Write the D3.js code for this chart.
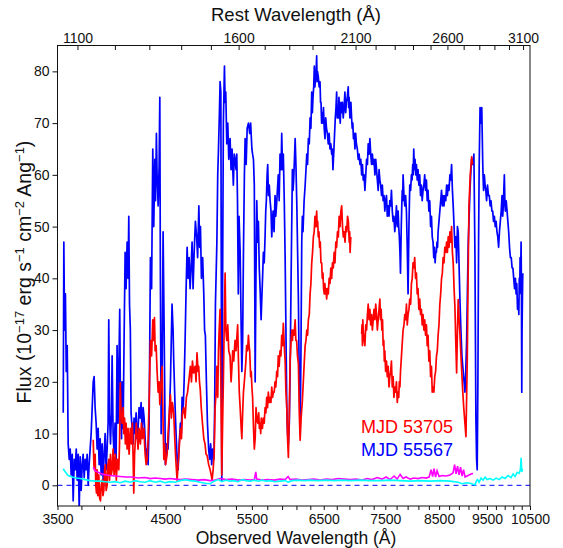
<!DOCTYPE html>
<html>
<head>
<meta charset="utf-8">
<script src="https://cdn.jsdelivr.net/npm/d3@7.9.0/dist/d3.min.js"></script>
<style>
  html, body { margin: 0; padding: 0; background: #fff; }
  svg { display: block; font-family: "Liberation Sans", Arial, Helvetica, sans-serif; }
  .tick text { fill: #111; }
</style>
</head>
<body>
<svg id="chart" width="563" height="548"></svg>
<script>
// redshift used for the rest-frame axis on top
const zQSO = 2.333;

// observed-frame tick values
const obsTicks = d3.range(3500, 10501, 200);
const obsLabels = [3500, 4500, 5500, 6500, 7500, 8500, 9500, 10500];
const restTicks = d3.range(1100, 3101, 100);
const restLabels = [1100, 1600, 2100, 2600, 3100];
const fluxTicks = [0, 10, 20, 30, 40, 50, 60, 70, 80];

const legendLabels = ["MJD 53705", "MJD 55567"];

// MJD 55567 spectrum [observed wavelength (A), flux]
const spec55567 = [
  [3547,14],[3552,47],[3558,30],[3565,37],[3572,22],[3580,27],[3588,8],[3597,5],[3605,7],[3613,2],
  [3622,6],[3630,-3],[3639,5],[3647,3],[3656,7],[3664,1],[3673,6],[3681,-4.5],[3690,5.5],[3698,-1],
  [3707,4],[3715,6],[3724,1.5],[3733,5],[3741,3],[3750,6],[3759,0],[3767,4],[3776,7],[3785,10],
  [3794,15],[3803,20],[3811,21],[3820,15],[3829,12],[3838,7],[3847,11],[3856,4],[3865,9],[3874,2],
  [3883,8],[3892,1],[3901,6],[3910,10],[3919,3],[3928,7],[3937,12],[3943,32],[3950,14],[3959,8],
  [3968,14],[3974,25],[3983,10],[3992,6],[4001,12],[4011,5],[4020,27],[4029,12],[4045,34],[4052,15],
  [4062,9],[4067,20],[4077,11],[4086,28],[4096,45],[4105,38],[4115,47],[4124,40],[4131,52],[4138,35],
  [4146,30],[4153,14],[4163,11],[4173,8],[4182,13],[4192,10],[4202,14],[4211,9],[4221,11],[4231,15],
  [4241,13],[4251,16],[4261,10],[4271,15],[4281,13],[4291,9],[4301,5],[4311,7],[4321,4],[4331,12],
  [4344,44],[4356,38],[4368,65],[4378,50],[4389,63],[4396,55],[4405,68],[4412,60],[4423,54],[4433,62],
  [4440,75],[4446,40],[4454,10],[4464,22],[4474,49],[4485,30],[4498,4],[4511,8],[4526,7],[4537,12],
  [4551,20],[4560,28],[4568,35],[4579,30],[4586,24],[4601,15],[4611,10],[4622,5],[4633,3],[4644,8],
  [4658,12],[4668,10],[4676,17],[4687,14],[4698,20],[4709,28],[4720,38],[4731,46],[4742,40],[4753,44],
  [4764,38],[4775,42],[4786,47],[4797,38],[4809,45],[4823,51],[4837,48],[4848,44],[4862,54],[4871,46],
  [4880,50],[4891,40],[4905,44],[4918,37],[4927,30],[4936,29],[4948,20],[4960,12],[4974,7],[4985,5],
  [4997,8],[5009,4],[5020,7],[5035,5],[5044,15],[5053,35],[5070,47],[5080,60],[5089,65],[5100,72],
  [5108,78],[5117,76],[5128,1],[5138,40],[5147,70],[5160,81],[5168,74],[5176,76],[5188,66],[5200,70],
  [5212,63],[5228,67],[5240,61],[5252,65],[5268,58],[5279,64],[5289,63],[5301,61],[5310,64],[5319,55],
  [5329,37],[5338,52],[5352,45],[5365,30],[5373,22],[5383,28],[5393,45],[5405,60],[5414,67],[5427,62],
  [5440,69],[5456,70],[5472,68],[5484,70],[5500,65],[5509,64],[5520,63],[5531,58],[5542,20],[5552,40],
  [5563,55],[5573,47],[5584,51],[5595,42],[5606,38],[5619,32],[5628,36],[5638,40],[5649,45],[5660,43],
  [5671,48],[5680,53],[5688,55],[5698,60],[5706,62],[5716,56],[5727,58],[5738,55],[5750,53],[5760,48],
  [5769,51],[5778,53],[5791,49],[5804,56],[5814,52],[5824,54],[5836,57],[5848,60],[5860,55],[5872,64],
  [5886,61],[5895,68],[5906,61],[5917,64],[5930,55],[5942,44],[5953,30],[5965,15],[5976,10],[5987,8],
  [6000,12],[6011,22],[6025,40],[6043,61],[6052,57],[6061,59],[6072,63],[6082,67],[6093,62],[6106,54],
  [6117,45],[6128,36],[6141,20],[6153,10],[6164,25],[6176,47],[6185,52],[6194,49],[6210,55],[6225,58],
  [6237,61],[6249,64],[6260,62],[6272,67],[6285,66],[6297,71],[6309,69],[6321,76],[6330,72],[6340,75],
  [6350,77],[6359,81],[6368,77],[6377,79],[6386,80],[6394,83],[6400,78],[6406,80],[6418,79],[6431,77],
  [6444,78],[6452,74],[6459,74],[6468,70],[6478,72],[6487,70],[6496,73],[6507,69],[6519,67],[6530,71],
  [6542,69],[6555,68],[6569,66],[6582,68],[6595,65],[6608,66],[6621,64],[6631,65],[6641,61],[6648,63],
  [6656,65],[6666,68],[6677,71],[6688,73],[6698,76],[6708,71],[6718,73],[6726,71],[6734,75],[6744,72],
  [6754,70],[6765,74],[6776,72],[6788,74],[6801,71],[6815,73],[6828,76],[6840,72],[6852,74],[6866,75],
  [6881,77],[6888,73],[6895,75],[6908,71],[6924,74],[6935,71],[6945,69],[6955,70],[6965,67],[6977,68],
  [6989,65],[7001,68],[7013,66],[7028,65],[7043,63],[7057,64],[7071,62],[7085,63],[7099,60],[7112,62],
  [7125,59],[7139,60],[7153,57],[7167,60],[7181,63],[7195,62],[7208,66],[7222,64],[7236,67],[7250,64],
  [7265,62],[7278,64],[7292,62],[7306,63],[7321,60],[7335,63],[7349,61],[7363,59],[7377,57],[7392,61],
  [7406,59],[7420,58],[7435,56],[7449,58],[7463,55],[7478,56],[7492,53],[7506,55],[7521,56],[7535,52],
  [7550,54],[7565,52],[7579,55],[7594,54],[7608,57],[7623,53],[7638,51],[7652,52],[7667,49],[7682,51],
  [7697,54],[7712,50],[7727,53],[7738,50],[7749,48],[7760,45],[7770,41],[7784,50],[7793,54],[7802,57],
  [7810,55],[7817,60],[7833,56],[7848,54],[7863,56],[7878,53],[7893,46],[7908,37],[7924,50],[7939,58],
  [7955,57],[7970,60],[7982,59],[7994,62],[8003,60],[8013,65],[8025,61],[8037,63],[8050,60],[8063,62],
  [8078,59],[8093,61],[8109,58],[8125,60],[8141,56],[8157,58],[8172,55],[8188,57],[8204,58],[8220,60],
  [8236,57],[8253,59],[8268,55],[8284,57],[8300,53],[8317,55],[8333,50],[8350,52],[8365,48],[8381,47],
  [8395,44],[8409,46],[8421,43],[8434,45],[8446,45],[8458,47],[8469,46],[8480,49],[8497,51],[8514,53],
  [8531,55],[8548,57],[8564,54],[8580,56],[8597,54],[8614,56],[8632,55],[8649,58],[8665,56],[8681,58],
  [8698,57],[8716,60],[8733,59],[8750,62],[8767,57],[8783,54],[8818,46],[8839,48],[8853,43],[8870,50],
  [8886,49],[8905,42],[8921,36],[8942,30],[8963,25],[8990,22],[9026,18],[9043,22],[9062,28],[9079,38],
  [9096,47],[9115,52],[9132,57],[9153,61],[9168,63],[9195,62],[9216,64],[9238,45],[9259,13],[9274,5],
  [9287,3],[9302,20],[9317,47],[9330,62],[9349,73],[9371,70],[9386,73],[9408,62],[9417,59],[9426,57],
  [9442,60],[9459,58],[9475,57],[9492,55],[9512,58],[9533,56],[9552,56],[9571,54],[9590,55],[9610,53],
  [9628,53],[9646,51],[9665,52],[9685,50],[9704,51],[9724,49],[9742,48],[9761,46],[9780,49],[9800,51],
  [9820,53],[9839,56],[9854,52],[9869,54],[9880,57],[9892,60],[9904,55],[9915,53],[9935,55],[9955,53],
  [9973,51],[9992,49],[10012,46],[10032,44],[10052,44],[10072,42],[10091,42],[10110,40],[10130,38],[10150,40],
  [10166,37],[10182,39],[10200,34],[10220,36],[10231,33],[10242,40],[10252,37],[10261,44],[10273,40],[10285,47],
  [10293,38],[10301,18],[10308,30],[10315,35],[10325,41]
];

// MJD 53705 spectrum (gap between the two arms marked with null)
const spec53705 = [
  [3803,8.8],[3809,4],[3815,3],[3820,6],[3826,0],[3832,-1.5],[3838,3],[3844,-2],[3853,2],[3860,-2.5],
  [3868,-3],[3874,0],[3883,1],[3890,-2],[3898,-1],[3905,3],[3912,4],[3919,-1],[3928,0],[3935,4],
  [3943,5],[3950,1],[3959,6],[3966,2],[3974,3],[3983,7],[3992,2],[4004,6],[4013,1],[4023,5],
  [4036,3],[4043,8],[4050,19.8],[4057,14],[4067,12],[4077,15],[4083,10],[4091,13],[4098,8],[4105,12],
  [4115,7],[4124,11],[4134,6],[4146,11],[4156,8],[4166,12],[4173,5],[4179,-1.5],[4187,6],[4195,9],
  [4204,12],[4211,10],[4221,7],[4231,11],[4244,8],[4254,12],[4264,9],[4278,11],[4291,6],[4301,4],
  [4311,5],[4321,9],[4333,18],[4344,28],[4356,25],[4368,32],[4376,28],[4385,32.4],[4392,26],[4402,27],
  [4412,22],[4423,18],[4433,20],[4440,15.6],[4450,19],[4464,23],[4472,14],[4482,5],[4490,8],[4500,4],
  [4516,6],[4526,10],[4539,14],[4551,17.5],[4561,13],[4572,16],[4586,14],[4597,9],[4608,5],[4622,1],
  [4633,4],[4644,7],[4658,11],[4669,9],[4680,14],[4694,15],[4709,13],[4723,17],[4736,18],[4749,20],
  [4767,23],[4779,20],[4790,24],[4803,21.7],[4820,23],[4830,20],[4841,25.6],[4853,22],[4860,23],[4869,20],
  [4878,18.5],[4889,15],[4903,12],[4918,9],[4932,8],[4944,6],[4956,5.8],[4974,4],[4991,3],[5003,2],
  [5014,1],[5026,3],[5038,6],[5049,15],[5061,18],[5070,23],[5080,17],[5089,26],[5097,30],[5108,34],
  [5117,20],[5128,2],[5138,12],[5147,20],[5158,32],[5168,41],[5177,30],[5188,28],[5200,31],[5212,26],
  [5228,25],[5240,20],[5248,22],[5260,26],[5272,24],[5289,28],[5301,26],[5321,31],[5331,24],[5341,18],
  [5352,15],[5365,11],[5373,9],[5383,14],[5393,18],[5404,20],[5414,22],[5424,24],[5433,27],[5445,26],
  [5456,29],[5464,27],[5472,26],[5484,21],[5492,22],[5500,19],[5509,17],[5521,11],[5531,7],[5542,9],
  [5553,15],[5563,13],[5575,12],[5588,14],[5597,11],[5606,12],[5614,10],[5622,13],[5636,11],[5649,13],
  [5660,12],[5671,15],[5682,14],[5693,17],[5704,15],[5714,18],[5726,16],[5738,17],[5749,16],[5760,19],
  [5771,17],[5782,18],[5793,18],[5804,20],[5815,19],[5827,22],[5838,21],[5848,25],[5860,23],[5872,26],
  [5884,25],[5895,29],[5906,27],[5917,31.3],[5930,27],[5942,24],[5953,18],[5965,15],[5976,9],[5987,5.4],
  [6000,14],[6011,24],[6025,28],[6035,30],[6044,28],[6053,30],[6067,29],[6082,32],[6092,28],[6103,28],
  [6115,25],[6128,23.5],[6141,14],[6153,8.7],[6167,13],[6185,16.4],[6202,21],[6213,24],[6225,27],[6237,28],
  [6249,30],[6260,29],[6272,32],[6285,33],[6297,37],[6309,39],[6321,43],[6333,45],[6345,48],[6357,49],
  [6369,52],[6381,50],[6394,53],[6402,50],[6409,51],[6418,48],[6428,49],[6438,46],[6448,47],[6458,43],
  [6469,43],[6478,40],[6488,41],[6498,38],[6508,37],[6517,39],[6526,37],[6535,38],[6544,36],[6556,38],
  [6569,37],[6582,40],[6595,39],[6608,42],[6621,40],[6633,43],[6646,42],[6659,45],[6672,43],[6685,47],
  [6698,46],[6711,49],[6724,48],[6737,52],[6751,50],[6764,53],[6777,54],[6790,50],[6803,48],[6816,49],
  [6830,47],[6843,50],[6857,49],[6870,52],[6883,51],[6897,47],[6904,49],[6911,45],[6922,48],
  [7010,null],
  [7099,29.3],[7105,31],[7112,27],[7118,32],[7125,30],[7139,28],[7153,27],[7167,31],[7181,30],[7195,33],
  [7208,35],[7222,32],[7236,34],[7250,31],[7265,33],[7278,30],[7292,32],[7306,34],[7321,32],[7335,35],
  [7349,33],[7363,30],[7377,32],[7392,34],[7406,36],[7417,32],[7428,34],[7440,30],[7452,32],[7463,27],
  [7474,28],[7483,24],[7492,26],[7506,22],[7521,24],[7535,21],[7550,23],[7565,19],[7579,21],[7594,22],
  [7608,24],[7623,19],[7638,21],[7652,17],[7667,19],[7682,18],[7697,20],[7712,16],[7727,18],[7738,17],
  [7749,20],[7760,19],[7770,22],[7782,24],[7793,26],[7805,28],[7817,30],[7833,31],[7848,33],[7863,32],
  [7878,35],[7893,31],[7908,33],[7924,34],[7939,36],[7955,35],[7970,39],[7985,40],[8000,43],[8015,42],
  [8031,44],[8047,40],[8063,41],[8078,37],[8093,38],[8109,34],[8125,36],[8141,33],[8157,34],[8172,31],
  [8188,33],[8204,30],[8220,32],[8236,29],[8253,31],[8268,27],[8284,29],[8300,24],[8317,26],[8333,21],
  [8350,23],[8365,18],[8381,19],[8397,18],[8414,21],[8431,22],[8448,25],[8464,26],[8480,29],[8497,31],
  [8514,35],[8531,37],[8548,40],[8564,41],[8580,44],[8597,43],[8614,46],[8632,45],[8649,47],[8665,45],
  [8681,48],[8698,46],[8716,49],[8733,47],[8750,50],[8767,45],[8783,43],[8801,38],[8818,34.5],[8835,28],
  [8853,21.7],[8870,30],[8886,35.9],[8905,32],[8921,29.3],[8948,24],[8978,18.5],[9001,15],[9026,12],[9047,9.4],
  [9075,24.3],[9090,38],[9111,54],[9138,60],[9168,63.5],[9189,62]
];

// error spectrum of MJD 53705
const err53705 = [
  [3803,3.5],[3820,2.8],[3847,2.5],[3883,2.2],[3919,2.0],[3956,1.9],[4001,1.8],[4048,1.7],[4105,1.6],[4163,1.6],
  [4221,1.4],[4291,1.5],[4341,1.3],[4392,1.4],[4444,1.3],[4495,1.2],[4547,1.3],[4601,1.2],[4654,1.1],[4720,1.2],
  [4786,1.1],[4853,1.0],[4922,1.1],[4991,0.9],[5049,1.0],[5108,1.3],[5180,1.1],[5252,1.2],[5326,1.0],[5402,1.1],
  [5478,1.0],[5531,1.1],[5550,2.6],[5561,1.2],[5632,1.0],[5711,1.1],[5791,1.0],[5872,1.2],[5942,1.1],[5983,1.7],
  [6011,1.1],[6095,1.2],[6181,1.0],[6268,1.1],[6357,1.2],[6444,1.0],[6536,1.2],[6628,1.1],[6721,1.3],[6815,1.2],
  [6911,1.1],[7008,1.2],[7107,1.0],[7190,1.3],[7274,1.1],[7358,1.5],[7444,1.2],[7514,1.6],[7584,1.1],[7655,1.8],
  [7709,1.2],[7763,2.1],[7817,1.3],[7871,1.6],[7946,1.2],[8019,1.4],[8094,1.3],[8170,1.5],[8246,1.4],[8304,1.6],
  [8343,3.0],[8372,1.7],[8401,3.2],[8430,1.6],[8460,2.8],[8499,1.7],[8558,1.9],[8638,1.8],[8719,2.0],[8780,2.4],
  [8811,4.0],[8842,2.2],[8872,3.7],[8903,2.0],[8934,3.5],[8966,1.8],[8997,3.0],[9029,1.6],[9092,1.9],[9155,2.2],
  [9198,2.3]
];

// error spectrum of MJD 55567
const err55567 = [
  [3547,3.2],[3563,2.6],[3588,1.9],[3622,1.6],[3656,1.4],[3690,1.3],[3733,1.1],[3776,0.9],[3820,0.8],[3865,0.8],
  [3910,0.7],[3956,0.6],[4001,0.7],[4048,0.5],[4096,0.8],[4143,0.6],[4192,0.9],[4241,0.7],[4291,0.6],[4341,0.9],
  [4392,0.6],[4444,0.8],[4495,0.5],[4547,0.7],[4601,0.6],[4654,0.9],[4709,1.1],[4764,0.9],[4820,0.8],[4876,0.6],
  [4933,0.4],[4991,0.3],[5038,0.8],[5084,1.1],[5132,0.7],[5180,1.0],[5228,0.8],[5277,0.9],[5326,0.7],[5377,1.1],
  [5427,0.9],[5478,0.8],[5531,1.0],[5580,0.8],[5632,1.0],[5685,0.8],[5738,0.9],[5804,0.7],[5872,0.8],[5942,0.9],
  [5983,0.6],[6039,0.9],[6124,1.0],[6210,0.9],[6297,1.0],[6416,0.9],[6536,1.0],[6659,0.9],[6784,1.0],[6911,0.9],
  [7074,1.0],[7240,0.9],[7410,0.9],[7584,1.0],[7763,0.9],[7946,0.8],[8132,0.9],[8323,0.8],[8519,0.9],[8719,0.8],
  [8883,0.6],[8966,0.3],[9050,0.5],[9134,0.4],[9198,0.2],[9241,0.1],[9273,0.9],[9294,1.1],[9327,0.6],[9371,1.4],
  [9414,1.0],[9458,1.6],[9502,1.1],[9569,1.3],[9636,1.0],[9704,1.4],[9772,1.1],[9840,1.6],[9909,1.3],[9978,1.9],
  [10048,1.5],[10095,2.2],[10142,1.7],[10189,2.5],[10237,2.3],[10268,3.0],[10285,5.3],[10301,2.6],[10320,3.2]
];

const svg = d3.select("#chart");
const plotLeft = 57.5, plotRight = 530, plotTop = 45.5, plotBottom = 506;

const x = d3.scaleLog().domain([3500, 10500]).range([plotLeft, plotRight]);
const xRest = d3.scaleLog().domain([3500 / (1 + zQSO), 10500 / (1 + zQSO)]).range([plotLeft, plotRight]);
const y = d3.scaleLinear().domain([-4, 85]).range([plotBottom, plotTop]);

svg.append("clipPath").attr("id", "plotClip")
  .append("rect").attr("x", plotLeft).attr("y", plotTop)
  .attr("width", plotRight - plotLeft).attr("height", plotBottom - plotTop);

const plot = svg.append("g").attr("clip-path", "url(#plotClip)");

const line = d3.line()
  .defined(d => d[1] !== null)
  .x(d => x(d[0]))
  .y(d => y(d[1]));

// zero level
plot.append("line")
  .attr("x1", plotLeft).attr("x2", plotRight)
  .attr("y1", y(0)).attr("y2", y(0))
  .attr("stroke", "#0000ff").attr("stroke-width", 1)
  .attr("stroke-dasharray", "5,4");

plot.append("path").datum(spec55567)
  .attr("d", line).attr("fill", "none")
  .attr("stroke", "#0000ff").attr("stroke-width", 1.7).attr("stroke-linejoin", "round");

plot.append("path").datum(spec53705)
  .attr("d", line).attr("fill", "none")
  .attr("stroke", "#ff0000").attr("stroke-width", 1.7).attr("stroke-linejoin", "round");

plot.append("path").datum(err53705)
  .attr("d", line).attr("fill", "none")
  .attr("stroke", "#ff00ff").attr("stroke-width", 1.6);

plot.append("path").datum(err55567)
  .attr("d", line).attr("fill", "none")
  .attr("stroke", "#00ffff").attr("stroke-width", 1.6);

// axes
const xAxis = d3.axisBottom(x)
  .tickValues(obsTicks)
  .tickFormat(d => d)
  .tickSize(4).tickSizeOuter(0).tickPadding(4);

const gx = svg.append("g").attr("transform", `translate(0,${plotBottom})`).call(xAxis);
// only the labelled ticks keep their text
gx.selectAll(".tick text").filter(d => !obsLabels.includes(d)).remove();

const topAxis = d3.axisTop(xRest)
  .tickValues(restTicks)
  .tickFormat(d => d)
  .tickSize(-4.5).tickSizeOuter(0).tickPadding(3);

const gt = svg.append("g").attr("transform", `translate(0,${plotTop})`).call(topAxis);
gt.selectAll(".tick text").filter(d => !restLabels.includes(d)).remove();

const yAxis = d3.axisLeft(y)
  .tickValues(fluxTicks)
  .tickSize(5).tickSizeOuter(0).tickPadding(3);

const gy = svg.append("g").attr("transform", `translate(${plotLeft},0)`).call(yAxis);

[gx, gt, gy].forEach(g => {
  g.select(".domain").remove();
  g.selectAll(".tick line").attr("stroke", "#111");
  g.selectAll(".tick text").attr("font-size", 14)
    .attr("font-family", '"Liberation Sans", Arial, sans-serif');
});

// frame
svg.append("rect")
  .attr("x", plotLeft).attr("y", plotTop)
  .attr("width", plotRight - plotLeft).attr("height", plotBottom - plotTop)
  .attr("fill", "none").attr("stroke", "#111").attr("stroke-width", 1);

// axis titles
svg.append("text")
  .attr("x", 296).attr("y", 544)
  .attr("text-anchor", "middle").attr("font-size", 17.5).attr("fill", "#111")
  .text("Observed Wavelength (Å)");

svg.append("text")
  .attr("x", 296).attr("y", 21)
  .attr("text-anchor", "middle").attr("font-size", 18.5).attr("fill", "#111")
  .text("Rest Wavelength (Å)");

const yTitle = svg.append("text")
  .attr("transform", "translate(31,272) rotate(-90)")
  .attr("text-anchor", "middle").attr("font-size", 19.5).attr("fill", "#111");

const yParts = [["Flux (10", false], ["−17", true], [" erg s", false], ["−1", true],
                [" cm", false], ["−2", true], [" Ang", false], ["−1", true], [")", false]];
let raised = false;
yParts.forEach(([t, sup]) => {
  const span = yTitle.append("tspan").text(t);
  if (sup) {
    span.attr("font-size", 13).attr("dy", -7);
    raised = true;
  } else if (raised) {
    span.attr("dy", 7);
    raised = false;
  }
});

// legend
const legendColors = ["#ff0000", "#0000ff"];
svg.selectAll(".legend")
  .data(legendLabels)
  .enter()
  .append("text")
  .attr("class", "legend")
  .attr("x", 361)
  .attr("y", (d, i) => 433 + i * 23)
  .attr("font-size", 18)
  .attr("fill", (d, i) => legendColors[i])
  .text(d => d);
</script>
</body>
</html>
